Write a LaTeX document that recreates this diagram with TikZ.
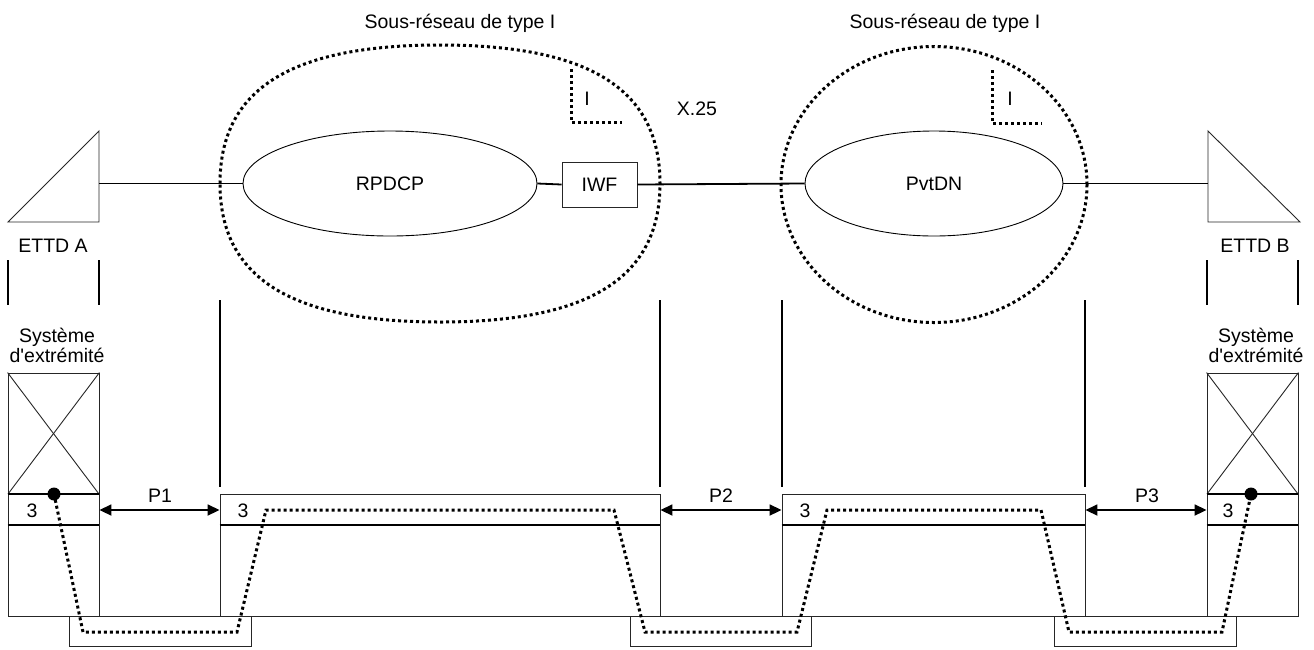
\documentclass[tikz,border=0pt]{standalone}
\usepackage{fontspec}
\newfontfamily\arialf{Liberation Sans}
\usetikzlibrary{arrows.meta,shapes.geometric}
\begin{document}
\begin{tikzpicture}[x=1pt,y=-1pt,
  thinln/.style={line width=0.9pt,draw=black!85},
  thickln/.style={line width=1.8pt,draw=black},
  dotln/.style={line width=3pt,dash pattern=on 3pt off 3pt,draw=black},
  txt/.style={font=\arialf\fontsize{19.5}{20}\selectfont,inner sep=0pt,anchor=base},
  boxn/.style={draw=black!85,line width=0.9pt,rectangle,inner sep=0pt},
  ell/.style={draw=black,line width=0.9pt,ellipse,inner sep=0pt},
  dblarrow/.style={line width=1.8pt,{Triangle[length=12pt,width=11pt]}-{Triangle[length=12pt,width=11pt]}}
]
\fill[white] (0,0) rectangle (1314,649);
\useasboundingbox (0,0) rectangle (1314,649);

% ---- titles
\node[txt] (t1) at (460,28) {Sous-réseau de type I};
\node[txt] (t2) at (945,28) {Sous-réseau de type I};

% ---- network elements
\node[ell,minimum width=294pt,minimum height=105pt,font=\arialf\fontsize{19.5}{20}\selectfont] (rpdcp) at (390,183.5) {RPDCP};
\node[boxn,minimum width=75pt,minimum height=45pt,font=\arialf\fontsize{19.5}{20}\selectfont] (iwf) at (599.5,184.5) {IWF};
\node[ell,minimum width=258pt,minimum height=105pt,font=\arialf\fontsize{19.5}{20}\selectfont] (pvt) at (934,183.5) {PvtDN};

% triangles (DTE)
\coordinate (taR) at (99,183.5);
\coordinate (tbL) at (1208,183.5);
\draw[thinln] (8,222) -- (99,222) -- (99,131) -- cycle;
\draw[thinln] (1208,131) -- (1208,222) -- (1300,222) -- cycle;

% connecting line
\draw[thickln] (taR) -- (rpdcp.west);
\draw[thickln] (rpdcp.east) -- (iwf.west);
\draw[thickln] (iwf.east) -- (pvt.west);
\draw[thickln] (pvt.east) -- (tbL);

% dotted subnetwork boundaries
\draw[dotln] (220,183.5) .. controls (220,89.3) and (290.4,45) .. (440,45)
  .. controls (589.6,45) and (660,89.3) .. (660,183.5)
  .. controls (660,277.7) and (589.6,322) .. (440,322)
  .. controls (290.4,322) and (220,277.7) .. (220,183.5);
\node[ellipse,draw,dotln,minimum width=306pt,minimum height=276pt,inner sep=0pt] (sn2) at (934,184.5) {};

% corner markers
\draw[dotln] (571,69) -- (571,122) -- (622,122);
\draw[dotln] (992,70) -- (992,123) -- (1042,123);
\node[txt] (i1) at (587,105) {I};
\node[txt] (i2) at (1010,105) {I};
\node[txt] (x25) at (697,115) {X.25};

% labels DTE
\node[txt] (la) at (53,252) {ETTD A};
\node[txt] (lb) at (1255,252) {ETTD B};
\node[txt] (sa1) at (57,342) {Système};
\node[txt] (sa2) at (57,362) {d'extrémité};
\node[txt] (sb1) at (1256,342) {Système};
\node[txt] (sb2) at (1256,362) {d'extrémité};

% ticks
\draw[thickln] (8,260) -- (8,305);
\draw[thickln] (99,260) -- (99,305);
\draw[thickln] (1207,260) -- (1207,305);
\draw[thickln] (1298,260) -- (1298,305);
\draw[thickln] (220,300) -- (220,487);
\draw[thickln] (660,300) -- (660,487);
\draw[thickln] (782,300) -- (782,487);
\draw[thickln] (1085,300) -- (1085,487);

% ---- stacks
\node[boxn,minimum width=91pt,minimum height=243pt] (endA) at (53.5,494.5) {};
\node[boxn,minimum width=440pt,minimum height=122pt] (mid1) at (440,555) {};
\node[boxn,minimum width=303pt,minimum height=122pt] (mid2) at (933.5,555) {};
\node[boxn,minimum width=91pt,minimum height=243pt] (endB) at (1252.5,494.5) {};
\node[boxn,minimum width=182pt,minimum height=30pt] (b1) at (160,631) {};
\node[boxn,minimum width=181pt,minimum height=30pt] (b2) at (720.5,631) {};
\node[boxn,minimum width=182pt,minimum height=30pt] (b3) at (1145,631) {};

% crosses
\draw[thinln] (endA.north west) -- (99,494);
\draw[thinln] (endA.north east) -- (8,494);
\draw[thinln] (endB.north west) -- (1298,494);
\draw[thinln] (endB.north east) -- (1207,494);

% layer lines
\coordinate (yTop) at (0,494);
\coordinate (yMid) at (0,525);
\coordinate (yP) at (0,510);
\draw[thickln] (endA.west |- yTop) -- (endA.east |- yTop);
\draw[thickln] (endB.west |- yTop) -- (endB.east |- yTop);
\draw[thickln] (endA.west |- yMid) -- (endA.east |- yMid);
\draw[thickln] (endB.west |- yMid) -- (endB.east |- yMid);
\draw[thickln] (mid1.west |- yMid) -- (mid1.east |- yMid);
\draw[thickln] (mid2.west |- yMid) -- (mid2.east |- yMid);

% "3" labels
\node[txt] (n1) at (32,517) {3};
\node[txt] (n2) at (243,517) {3};
\node[txt] (n3) at (805,517) {3};
\node[txt] (n4) at (1228,517) {3};

% protocol arrows
\draw[dblarrow] (endA.east |- yP) -- (mid1.west |- yP);
\draw[dblarrow] (mid1.east |- yP) -- (mid2.west |- yP);
\draw[dblarrow] (mid2.east |- yP) -- (endB.west |- yP);
\node[txt] (p1) at (160,502) {P1};
\node[txt] (p2) at (721,502) {P2};
\node[txt] (p3) at (1147,502) {P3};

% dotted data path
\coordinate (dA) at (54,494);
\coordinate (dB) at (1251,494);
\draw[dotln] (dA) -- (83,632) -- (237,632) -- (266,510) -- (614,510) -- (645,632)
  -- (797,632) -- (827,510) -- (1041,510) -- (1069,632) -- (1222,632) -- (dB);
\fill (dA) circle[radius=6.5pt];
\fill (dB) circle[radius=6.5pt];
\end{tikzpicture}
\end{document}
